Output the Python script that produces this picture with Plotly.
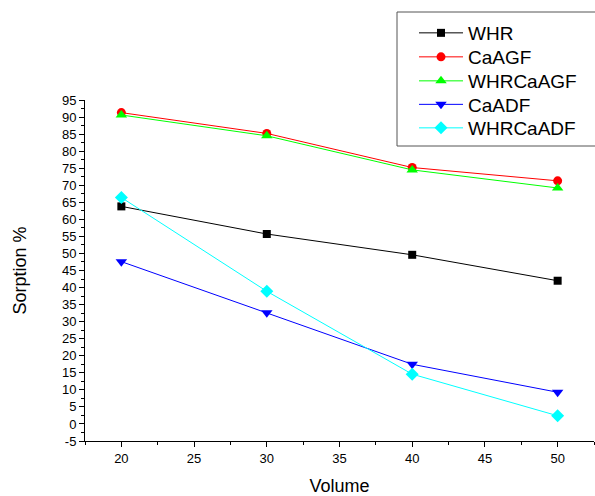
import plotly.graph_objects as go

volume = [20, 30, 40, 50]
whr = [63.8, 55.7, 49.6, 42.0]
caagf = [91.3, 85.2, 75.2, 71.3]
whrcaagf = [90.6, 84.5, 74.5, 69.2]
caadf = [47.6, 32.6, 17.5, 9.3]
whrcaadf = [66.4, 38.9, 14.6, 2.4]

y_tick_vals = list(range(-5, 100, 5))
y_tick_text = [str(v) for v in y_tick_vals]
x_tick_vals = [20, 25, 30, 35, 40, 45, 50]

series = [
    ("WHR", whr, "#000000", "square", 8),
    ("CaAGF", caagf, "#FF0000", "circle", 9),
    ("WHRCaAGF", whrcaagf, "#00FF00", "triangle-up", 10),
    ("CaADF", caadf, "#0000FF", "triangle-down", 10),
    ("WHRCaADF", whrcaadf, "#00FFFF", "diamond", 10),
]

font_family = "Liberation Sans, Arial, sans-serif"

# plot area in pixels: left 85, top 100, width 509, height 341
PL, PT, PW, PH = 85, 100, 509, 341
legend_rows_px = [33, 57, 81, 104.5, 128]

fig = go.Figure()
legend_layout = {}
for i, (name, vals, col, sym, sz) in enumerate(series):
    key = "legend" if i == 0 else f"legend{i + 1}"
    fig.add_trace(go.Scatter(
        x=volume, y=vals, name=name, mode="lines+markers",
        line=dict(color=col, width=1),
        marker=dict(symbol=sym, size=sz, color=col),
        cliponaxis=False, legend=key,
    ))
    legend_layout[key] = dict(
        x=(414 - PL) / PW, y=(PT + PH - legend_rows_px[i]) / PH,
        xanchor="left", yanchor="middle",
        bgcolor="rgba(0,0,0,0)", borderwidth=0,
        font=dict(size=19, family=font_family, color="black"),
        itemwidth=44,
    )

fig.update_layout(
    width=595, height=496,
    margin=dict(l=PL, r=595 - PL - PW, t=PT, b=496 - PT - PH),
    paper_bgcolor="white", plot_bgcolor="white",
    font=dict(family=font_family, color="black", size=13),
    showlegend=True,
    xaxis=dict(
        range=[17.5, 52.5], tickvals=x_tick_vals,
        showline=True, linecolor="black", linewidth=1,
        ticks="outside", ticklen=5, tickcolor="black", tickwidth=1,
        minor=dict(dtick=2.5, tick0=17.5, ticks="outside", ticklen=3, tickcolor="black"),
        showgrid=False, zeroline=False, automargin=False,
        tickfont=dict(size=13),
        title=dict(text="Volume", font=dict(size=18), standoff=17),
    ),
    yaxis=dict(
        range=[-5, 95], tickvals=y_tick_vals, ticktext=y_tick_text,
        showline=True, linecolor="black", linewidth=1,
        ticks="outside", ticklen=5, tickcolor="black", tickwidth=1,
        minor=dict(dtick=2.5, tick0=-5, ticks="outside", ticklen=3, tickcolor="black"),
        showgrid=False, zeroline=False, automargin=False,
        tickfont=dict(size=13),
        title=dict(text="Sorption %", font=dict(size=18), standoff=30),
    ),
    shapes=[dict(
        type="rect", xref="paper", yref="paper",
        x0=(397 - PL) / PW, x1=1.1,
        y0=(PT + PH - 146) / PH, y1=(PT + PH - 12) / PH,
        line=dict(color="#555555", width=1), fillcolor="rgba(0,0,0,0)",
        layer="above",
    )],
    **legend_layout,
)

fig.write_html("out.html")
